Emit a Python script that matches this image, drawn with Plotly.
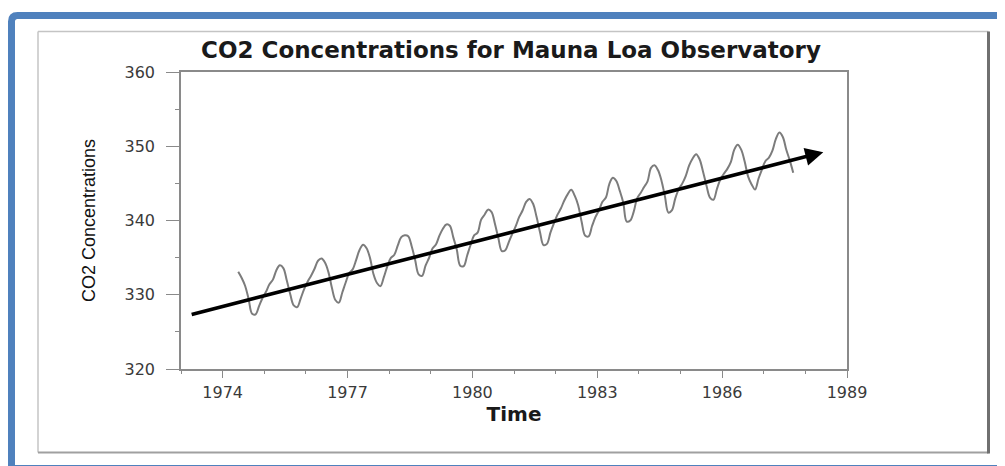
import plotly.graph_objects as go

# ---- data (monthly Mauna Loa CO2, May 1974 .. Sep 1987) ----
start_year = 1974
start_month = 5
co2 = [
    333.09, 332.25, 331.18, 329.40, 327.43, 327.37, 328.46, 329.57,                  # 1974 May-Dec
    330.40, 331.40, 332.04, 333.31, 333.96, 333.59, 331.91, 330.06, 328.56, 328.34, 329.49, 330.76,  # 1975
    331.75, 332.56, 333.50, 334.58, 334.87, 334.34, 333.05, 330.94, 329.30, 328.94, 330.31, 331.68,  # 1976
    332.93, 333.42, 334.70, 336.07, 336.74, 336.27, 334.93, 332.75, 331.58, 331.16, 332.40, 333.85,  # 1977
    334.97, 335.39, 336.64, 337.76, 338.01, 337.89, 336.54, 334.68, 332.76, 332.54, 333.92, 334.95,  # 1978
    336.23, 336.76, 337.96, 338.89, 339.47, 339.29, 337.73, 336.09, 333.91, 333.86, 335.29, 336.73,  # 1979
    338.01, 338.36, 340.08, 340.77, 341.46, 341.17, 339.56, 337.60, 335.88, 336.01, 337.10, 338.21,  # 1980
    339.24, 340.48, 341.38, 342.51, 342.91, 342.25, 340.49, 338.43, 336.69, 336.85, 338.36, 339.61,  # 1981
    340.75, 341.61, 342.70, 343.56, 344.13, 343.35, 342.06, 339.82, 337.97, 337.86, 339.26, 340.49,  # 1982
    341.38, 342.52, 343.10, 344.94, 345.75, 345.32, 343.99, 342.39, 339.86, 339.99, 341.16, 342.99,  # 1983
    343.70, 344.51, 345.28, 347.08, 347.43, 346.79, 345.40, 343.28, 341.07, 341.35, 342.98, 344.22,  # 1984
    344.97, 345.99, 347.42, 348.35, 348.93, 348.25, 346.56, 344.69, 343.09, 342.80, 344.24, 345.56,  # 1985
    346.30, 346.95, 347.85, 349.55, 350.21, 349.54, 347.94, 345.91, 344.86, 344.17, 345.66, 346.90,  # 1986
    348.02, 348.47, 349.42, 350.99, 351.84, 351.25, 349.52, 348.10, 346.44,                          # 1987 Jan-Sep
]
time = [start_year + (start_month - 1 + i + 0.5) / 12 for i in range(len(co2))]

trend_start = (1973.22, 327.3)
trend_end = (1988.43, 349.2)

x_tick_years = [1974, 1977, 1980, 1983, 1986, 1989]
y_tick_values = [320, 330, 340, 350, 360]

title_text = "CO2 Concentrations for Mauna Loa Observatory"
x_title = "Time"
y_title = "CO2 Concentrations"

# ---- layout geometry (page pixels; the page body adds an 8px offset) ----
OFF = 8
W, H = 1005 - OFF, 466 - OFF
L, R, T, B = 181 - OFF, 847 - OFF, 72 - OFF, 369 - OFF


def px(xp):
    return (xp - OFF - L) / (R - L)


def py(yp):
    return (B - (yp - OFF)) / (B - T)


fig = go.Figure()
fig.add_trace(go.Scatter(
    x=time, y=co2, mode="lines",
    line=dict(color="#7c7c7c", width=2, shape="spline", smoothing=1.0),
    hoverinfo="skip", showlegend=False,
))

fig.add_annotation(
    x=trend_end[0], y=trend_end[1], ax=trend_start[0], ay=trend_start[1],
    xref="x", yref="y", axref="x", ayref="y",
    text="", showarrow=True, arrowhead=2, arrowsize=1.0,
    arrowwidth=3.6, arrowcolor="#000000", standoff=0,
)

shapes = []
# outer blue frame (rounded top-left corner, runs past right/bottom edges)
bx0, by0, bx1, by1, r = 11.5, 15.5, 1020, 468.5, 6
shapes.append(dict(
    type="path", xref="paper", yref="paper",
    path=(f"M {px(bx1)},{py(by0)} L {px(bx0 + r)},{py(by0)} "
          f"Q {px(bx0)},{py(by0)} {px(bx0)},{py(by0 + r)} "
          f"L {px(bx0)},{py(by1)} L {px(bx1)},{py(by1)}"),
    line=dict(color="#4F81BD", width=7), layer="below",
))
# inner gray frame
gx0, gy0, gx1, gy1 = 38, 31.5, 988.5, 452.5
shapes.append(dict(type="line", xref="paper", yref="paper",
                   x0=px(gx0), y0=py(gy0), x1=px(gx1), y1=py(gy0),
                   line=dict(color="#C4C4C4", width=1.5)))
shapes.append(dict(type="line", xref="paper", yref="paper",
                   x0=px(gx0), y0=py(gy0), x1=px(gx0), y1=py(gy1),
                   line=dict(color="#C4C4C4", width=1.5)))
shapes.append(dict(type="line", xref="paper", yref="paper",
                   x0=px(gx0), y0=py(gy1), x1=px(gx1), y1=py(gy1),
                   line=dict(color="#A0A0A0", width=2)))
shapes.append(dict(type="line", xref="paper", yref="paper",
                   x0=px(gx1), y0=py(gy0), x1=px(gx1), y1=py(gy1 + 1),
                   line=dict(color="#707070", width=3)))

fig.update_layout(
    width=W, height=H, autosize=False,
    margin=dict(l=L, r=W - R, t=T, b=H - B, pad=0),
    paper_bgcolor="white", plot_bgcolor="white",
    shapes=shapes,
    title=dict(
        text=title_text, xref="container", yref="container",
        x=(511 - OFF) / W, y=1 - (50 - OFF) / H, xanchor="center", yanchor="middle",
        font=dict(family="DejaVu Sans", size=23, color="#1a1a1a", weight="bold"),
    ),
    xaxis=dict(
        range=[1973, 1989], tickmode="array", tickvals=x_tick_years,
        ticktext=[str(v) for v in x_tick_years],
        ticks="outside", ticklen=7, tickwidth=1.2, tickcolor="#8a8a8a",
        showline=True, linecolor="#8a8a8a", linewidth=1.5, mirror=True,
        showgrid=False, zeroline=False,
        minor=dict(tickmode="linear", tick0=1973, dtick=1, ticks="outside",
                   ticklen=3, tickwidth=1.2, tickcolor="#8a8a8a", showgrid=False),
        tickfont=dict(family="DejaVu Sans", size=16, color="#3a3a3a"),
        ticklabelstandoff=1,
        title=dict(text=x_title, standoff=5,
                   font=dict(family="DejaVu Sans", size=20, color="#1a1a1a", weight="bold")),
    ),
    yaxis=dict(
        range=[320, 360], tickmode="array", tickvals=y_tick_values,
        ticktext=[str(v) for v in y_tick_values],
        ticks="outside", ticklen=13, tickwidth=1.2, tickcolor="#8a8a8a",
        showline=True, linecolor="#8a8a8a", linewidth=1.5, mirror=True,
        showgrid=False, zeroline=False,
        minor=dict(tickmode="linear", tick0=320, dtick=5, ticks="outside",
                   ticklen=4, tickwidth=1.2, tickcolor="#8a8a8a", showgrid=False),
        tickfont=dict(family="DejaVu Sans", size=16, color="#3a3a3a"),
        ticklabelstandoff=8,
        title=dict(text=y_title, standoff=24,
                   font=dict(family="Liberation Sans", size=18, color="#111111")),
    ),
)

fig.write_html("out.html")
